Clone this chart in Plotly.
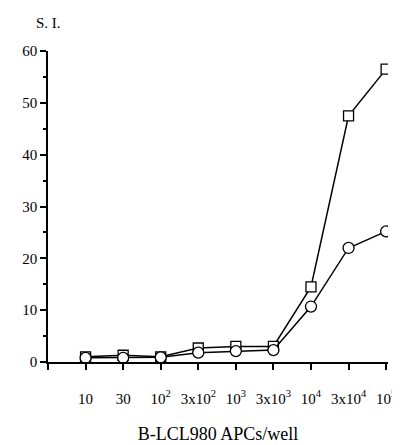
import plotly.graph_objects as go

categories = ["10", "30", "10<sup>2</sup>", "3x10<sup>2</sup>", "10<sup>3</sup>",
              "3x10<sup>3</sup>", "10<sup>4</sup>", "3x10<sup>4</sup>", "10<sup>5</sup>"]
squares = [1.0, 1.3, 1.0, 2.7, 3.0, 3.0, 14.5, 47.5, 56.5]
circles = [0.8, 0.8, 0.9, 1.8, 2.1, 2.3, 10.7, 22.0, 25.2]
xpos = list(range(1, len(categories) + 1))

FONT = "Liberation Serif, Times New Roman, serif"

fig = go.Figure()
fig.add_trace(go.Scatter(
    x=xpos, y=squares, mode="lines+markers",
    line=dict(color="black", width=1.5),
    marker=dict(symbol="square", size=10, color="white", line=dict(color="black", width=1.3)),
))
fig.add_trace(go.Scatter(
    x=xpos, y=circles, mode="lines+markers",
    line=dict(color="black", width=1.5),
    marker=dict(symbol="circle", size=11, color="white", line=dict(color="black", width=1.3)),
))

fig.update_layout(
    width=400, height=445,
    margin=dict(l=40, r=20, t=43, b=83),
    plot_bgcolor="white", paper_bgcolor="white",
    showlegend=False,
    font=dict(family=FONT, size=15, color="black"),
    xaxis=dict(
        range=[0, 9.05], tickmode="array", tickvals=[0] + xpos, ticktext=[""] + categories,
        showline=True, linecolor="black", linewidth=1.5,
        ticks="outside", ticklen=6, tickcolor="black", tickwidth=1.5,
        showgrid=False, zeroline=False, ticklabelstandoff=16,
        title=dict(text="B-LCL980 APCs/well", standoff=22),
    ),
    yaxis=dict(
        range=[0, 60], dtick=10, showline=True, linecolor="black", linewidth=1.5,
        ticks="outside", ticklen=6, tickcolor="black", tickwidth=1.5,
        minor=dict(dtick=5, ticks="outside", ticklen=3, tickcolor="black"),
        showgrid=False, zeroline=False,
    ),
    annotations=[dict(text="S. I.", x=-0.04, y=1.09, xref="paper", yref="paper",
                      xanchor="left", yanchor="middle", showarrow=False,
                      font=dict(size=15))],
)

fig.write_html("out.html")
